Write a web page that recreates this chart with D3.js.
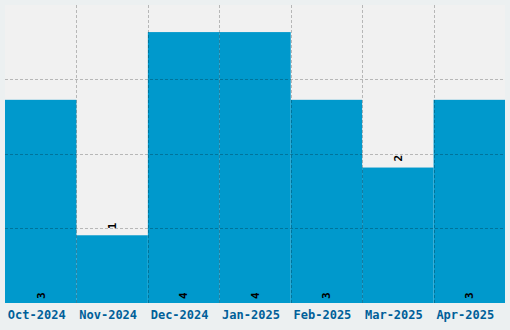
<!DOCTYPE html>
<html>
<head>
<meta charset="utf-8">
<script src="https://cdn.jsdelivr.net/npm/d3@7"></script>
<style>
  html, body { margin: 0; padding: 0; background: #ecf0f1; }
  svg { display: block; }
</style>
</head>
<body>
<svg id="chart" width="510" height="330"></svg>
<script>
const months = ['Oct-2024', 'Nov-2024', 'Dec-2024', 'Jan-2025', 'Feb-2025', 'Mar-2025', 'Apr-2025'];
const counts = [3, 1, 4, 4, 3, 2, 3];
const yGridSteps = 4;

const width = 510, height = 330;
const margin = { top: 5, right: 5, bottom: 27, left: 5 };
const innerW = width - margin.left - margin.right;
const innerH = height - margin.top - margin.bottom;

const svg = d3.select('#chart');
const graph = svg.append('g')
  .attr('transform', `translate(${margin.left},${margin.top})`);

const xScale = d3.scaleBand()
  .domain(months)
  .range([0, innerW])
  .padding(0);

const yMax = d3.max(counts) * 1.1;
const yScale = d3.scaleLinear()
  .domain([0, yMax])
  .range([innerH, 0]);

// plot background
graph.append('rect')
  .attr('width', innerW)
  .attr('height', innerH)
  .attr('fill', '#f1f1f1');

// bars
graph.selectAll('rect.bar')
  .data(counts)
  .enter()
  .append('rect')
  .attr('class', 'bar')
  .attr('x', (d, i) => xScale(months[i]))
  .attr('y', d => yScale(d))
  .attr('width', xScale.bandwidth())
  .attr('height', d => innerH - yScale(d))
  .attr('fill', '#0099cc');

// grid lines, drawn on top of bars
const gridColor = 'rgba(0,0,0,0.24)';
const yTicks = d3.range(1, yGridSteps).map(k => yMax * k / yGridSteps);
graph.append('g')
  .attr('class', 'grid')
  .selectAll('line')
  .data(yTicks)
  .enter()
  .append('line')
  .attr('x1', 0)
  .attr('x2', innerW)
  .attr('y1', d => Math.floor(yScale(d)) + 0.5)
  .attr('y2', d => Math.floor(yScale(d)) + 0.5)
  .attr('stroke', gridColor)
  .attr('shape-rendering', 'crispEdges')
  .attr('stroke-dasharray', '3,2');

graph.append('g')
  .attr('class', 'grid')
  .selectAll('line')
  .data(months.slice(1))
  .enter()
  .append('line')
  .attr('x1', d => Math.round(xScale(d)) + 0.5)
  .attr('x2', d => Math.round(xScale(d)) + 0.5)
  .attr('y1', 0)
  .attr('y2', innerH)
  .attr('stroke', gridColor)
  .attr('shape-rendering', 'crispEdges')
  .attr('stroke-dasharray', '3,2');

// x axis labels
const xAxis = graph.append('g')
  .attr('transform', `translate(0,${innerH})`)
  .call(d3.axisBottom(xScale).tickSize(0).tickPadding(0));
xAxis.select('.domain').remove();
xAxis.selectAll('text')
  .attr('dy', 0)
  .attr('y', 16)
  .attr('dx', -4)
  .attr('fill', '#005f99')
  .style('font-family', '"DejaVu Sans Mono", monospace')
  .style('font-weight', 'bold')
  .style('font-size', '12px');

// value labels, rotated: inside at the base for tall bars, above the top otherwise
graph.append('g')
  .selectAll('text')
  .data(counts)
  .enter()
  .append('text')
  .attr('transform', (d, i) => {
    const cx = xScale(months[i]) + xScale.bandwidth() / 2;
    const inside = innerH - yScale(d) > 150;
    const y = inside ? innerH - 4 : yScale(d) - 6;
    return `translate(${cx},${y}) rotate(-90)`;
  })
  .attr('dy', '0.35em')
  .attr('text-anchor', 'start')
  .attr('fill', '#000')
  .style('font-family', '"DejaVu Sans Mono", monospace')
  .style('font-weight', 'bold')
  .style('font-size', '11px')
  .text(d => d);
</script>
</body>
</html>
